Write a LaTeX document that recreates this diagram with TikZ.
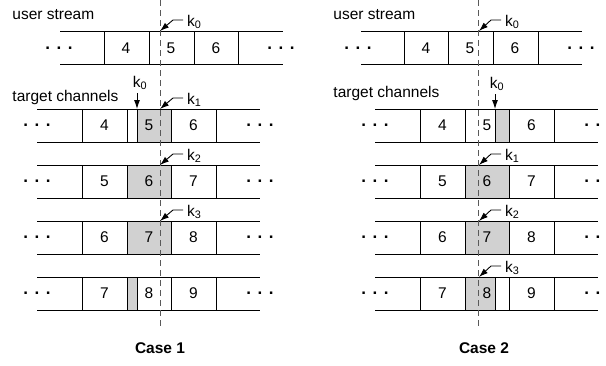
\documentclass[tikz,border=0pt]{standalone}
\usepackage{fontspec}
\setmainfont{Liberation Sans}
\usetikzlibrary{arrows.meta}

\newcommand\rowdots{}
\def\rowdots{\fontsize{17}{17}\selectfont\textbf{.\hspace{6.5pt}.\hspace{6.5pt}.}}

\begin{document}
\begin{tikzpicture}[x=1pt,y=-1pt,line width=0.9pt,
	txt/.style={font=\fontsize{15.5}{18}\selectfont, inner sep=0pt},
	klabel/.style={txt, anchor=west, outer sep=4pt},
	cut/.style={draw=black!65, line width=1pt, dash pattern=on 6pt off 4pt},
	kpointer/.style={-{Latex[length=9pt,width=6pt]}},
	shade/.style={fill=black!18, draw=black}]

\useasboundingbox (0,0) rectangle (606,365);

% ---------------- Case 1 ----------------
\begin{scope}
	% user stream
	\node[txt, anchor=west] (us1) at (12,15) {user stream};
	\draw (60,31) -- (283,31);
	\draw (60,64) -- (283,64);
	\foreach \x in {104,149,194,238}
		\draw (\x,31) -- (\x,64);
	\foreach \x/\n in {126/4,171/5,216/6}
		\node[txt] (us1-\n) at (\x,48) {\n};
	\node[txt] (us1-l) at (59,48) {\rowdots};
	\node[txt] (us1-r) at (281,48) {\rowdots};

	% target channels
	\node[txt, anchor=west] (tc1) at (12,97) {target channels};
	\foreach \top/\a/\b/\c/\sl/\sr [count=\r] in
	{
		109/4/5/6/137/171, 165/5/6/7/127/171, 221/6/7/8/127/171, 277/7/8/9/127/137
	}
	{
		\draw (37,\top) -- (260,\top);
		\draw (37,\top+33) -- (260,\top+33);
		\draw[shade] (\sl,\top) rectangle (\sr,\top+33);
		\foreach \x in {82,127,171,216}
			\draw (\x,\top) -- (\x,\top+33);
		\node[txt] (c1r\r-a) at (104.5,\top+16.5) {\a};
		\node[txt] (c1r\r-b) at (149,\top+16.5) {\b};
		\node[txt] (c1r\r-c) at (193.5,\top+16.5) {\c};
		\node[txt] (c1r\r-l) at (37,\top+16.5) {\rowdots};
		\node[txt] (c1r\r-r) at (260,\top+16.5) {\rowdots};
	}

	% cut line
	\coordinate (cut1a) at (160,0);
	\coordinate (cut1b) at (160,328);
	\draw[cut] (cut1a) -- (cut1b);

	% pointers
	\node[klabel] (k0us1) at (183,22) {k\textsubscript{0}};
	\coordinate (k0us1tip) at (160,31);
	\draw[kpointer] (k0us1.west) ++(0,-2) -- ++(-10,0) -- (k0us1tip);

	\node[txt] (k0tc1) at (140,83) {k\textsubscript{0}};
	\coordinate (k0tc1tip) at (137,109);
	\draw[kpointer] (k0tc1tip |- k0tc1.south) ++(0,3) -- (k0tc1tip);

	\foreach \k/\top in {1/109,2/165,3/221}
	{
		\node[klabel] (k\k c1) at (183,\top-9) {k\textsubscript{\k}};
		\coordinate (k\k c1tip) at (160,\top);
		\draw[kpointer] (k\k c1.west) ++(0,-2) -- ++(-10,0) -- (k\k c1tip);
	}

	\node[txt, font=\fontsize{15.5}{18}\selectfont\bfseries] (case1) at (160,348) {Case 1};
\end{scope}

% ---------------- Case 2 ----------------
\begin{scope}
	% user stream
	\node[txt, anchor=west] (us2) at (333,15) {user stream};
	\draw (361,31) -- (582,31);
	\draw (361,64) -- (582,64);
	\foreach \x in {404,448,493,538}
		\draw (\x,31) -- (\x,64);
	\foreach \x/\n in {426/4,470/5,515/6}
		\node[txt] (us2-\n) at (\x,48) {\n};
	\node[txt] (us2-l) at (358,48) {\rowdots};
	\node[txt] (us2-r) at (581,48) {\rowdots};

	% target channels
	\node[txt, anchor=west] (tc2) at (333,93) {target channels};
	\foreach \top/\a/\b/\c/\sl/\sr [count=\r] in
	{
		109/4/5/6/495/509, 165/5/6/7/465/509, 221/6/7/8/465/509, 277/7/8/9/465/495
	}
	{
		\draw (375,\top) -- (598,\top);
		\draw (375,\top+33) -- (598,\top+33);
		\draw[shade] (\sl,\top) rectangle (\sr,\top+33);
		\foreach \x in {420,465,509,554}
			\draw (\x,\top) -- (\x,\top+33);
		\node[txt] (c2r\r-a) at (442.5,\top+16.5) {\a};
		\node[txt] (c2r\r-b) at (487,\top+16.5) {\b};
		\node[txt] (c2r\r-c) at (531.5,\top+16.5) {\c};
		\node[txt] (c2r\r-l) at (375,\top+16.5) {\rowdots};
		\node[txt] (c2r\r-r) at (598,\top+16.5) {\rowdots};
	}

	% cut line
	\coordinate (cut2a) at (478,0);
	\coordinate (cut2b) at (478,328);
	\draw[cut] (cut2a) -- (cut2b);

	% pointers
	\node[klabel] (k0us2) at (501,22) {k\textsubscript{0}};
	\coordinate (k0us2tip) at (479,31);
	\draw[kpointer] (k0us2.west) ++(0,-2) -- ++(-10,0) -- (k0us2tip);

	\node[txt] (k0tc2) at (497,84) {k\textsubscript{0}};
	\coordinate (k0tc2tip) at (495,109);
	\draw[kpointer] (k0tc2tip |- k0tc2.south) ++(0,3) -- (k0tc2tip);

	\foreach \k/\top in {1/165,2/221,3/277}
	{
		\node[klabel] (k\k c2) at (501,\top-9) {k\textsubscript{\k}};
		\coordinate (k\k c2tip) at (479,\top);
		\draw[kpointer] (k\k c2.west) ++(0,-2) -- ++(-10,0) -- (k\k c2tip);
	}

	\node[txt, font=\fontsize{15.5}{18}\selectfont\bfseries] (case2) at (484,348) {Case 2};
\end{scope}

\end{tikzpicture}
\end{document}
